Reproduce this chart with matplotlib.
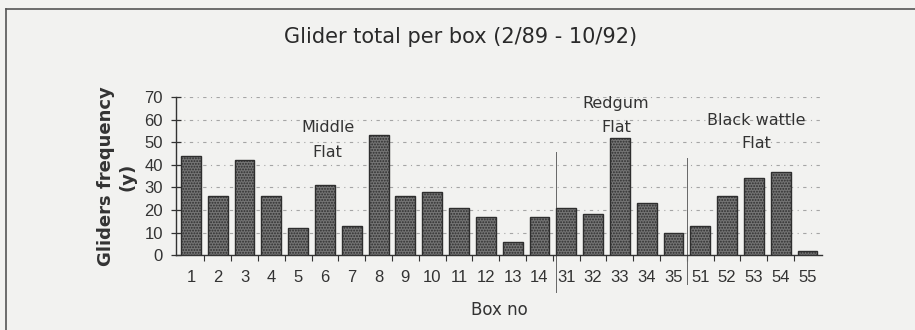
import matplotlib
matplotlib.use("Agg")
import matplotlib.pyplot as plt
from matplotlib.lines import Line2D

# Glider counts per nest box, Feb 1989 - Oct 1992
BOXES = ["1", "2", "3", "4", "5", "6", "7", "8", "9", "10", "11", "12", "13", "14",
         "31", "32", "33", "34", "35", "51", "52", "53", "54", "55"]
GLIDERS = [44, 26, 42, 26, 12, 31, 13, 53, 26, 28, 21, 17, 6, 17,
           21, 18, 52, 23, 10, 13, 26, 34, 37, 2]
Y_TICKS = [0, 10, 20, 30, 40, 50, 60, 70]
SITES = ["Middle\nFlat", "Redgum\nFlat", "Black wattle\nFlat"]

BG = "#f2f2f0"
INK = "#333333"
WIDE = ["DejaVu Sans"]

plt.rcParams["font.family"] = ["Liberation Sans", "DejaVu Sans"]
plt.rcParams["hatch.linewidth"] = 0.9

fig = plt.figure(figsize=(9.15, 3.3), dpi=100, facecolor=BG)
ax = fig.add_axes([0.1923, 0.227, 0.706, 0.479], facecolor=BG)

x = list(range(len(BOXES)))
ax.bar(x, GLIDERS, width=0.74, color="#747474", edgecolor="#2e2e2e",
       hatch="......", linewidth=1.0, zorder=3)

ax.set_xlim(-0.56, 23.54)
ax.set_ylim(0, 70)

# dotted gridlines
for v in Y_TICKS[1:]:
    ax.axhline(v, color="#a5a5a5", lw=0.8, ls=(0, (3, 4, 1, 4)), zorder=1)

for side in ("top", "right"):
    ax.spines[side].set_visible(False)
for side in ("left", "bottom"):
    ax.spines[side].set_color(INK)
    ax.spines[side].set_linewidth(1.0)

ax.set_yticks(Y_TICKS)
ax.tick_params(axis="y", direction="inout", length=7, width=0.9, color=INK,
               labelsize=12, labelcolor=INK, pad=6)
ax.set_xticks(x)
ax.set_xticklabels(BOXES)
ax.set_xticks([i + 0.5 for i in x[:-1]], minor=True)
ax.tick_params(axis="x", which="major", length=0, labelsize=12,
               labelcolor=INK, pad=11)
ax.tick_params(axis="x", which="minor", direction="out", length=4,
               width=0.8, color=INK)

# site separators
ax.plot([13.6, 13.6], [45.5, -16.5], color="#666666", lw=0.7,
        clip_on=False, zorder=2)
ax.plot([18.5, 18.5], [43, -13], color="#666666", lw=0.7,
        clip_on=False, zorder=2)

# site names
site_pos = [(5.1, 56.3, 45.6), (15.86, 67.3, 56.7), (21.1, 59.4, 49.2)]
for name, (sx, y1, y2) in zip(SITES, site_pos):
    first, second = name.split("\n")
    ax.text(sx, y1, first, ha="center", va="center", fontsize=11.5,
            family=WIDE, color=INK, zorder=4)
    ax.text(sx, y2, second, ha="center", va="center", fontsize=11.5,
            family=WIDE, color=INK, zorder=4)

fig.text(0.503, 0.888, "Glider total per box (2/89 - 10/92)", ha="center",
         va="center", fontsize=15, family=WIDE, color="#2a2a2a")
fig.text(0.546, 0.06, "Box no", ha="center", va="center", fontsize=12,
         family=WIDE, color=INK)
fig.text(0.1273, 0.465, "Gliders frequency\n(y)", rotation=90, ha="center",
         va="center", fontsize=13, fontweight="bold", family=WIDE,
         color=INK, linespacing=1.25)

# page frame
fig.add_artist(Line2D([6 / 915, 1.0], [1 - 9 / 330, 1 - 9 / 330],
                      color="#555555", lw=1.2))
fig.add_artist(Line2D([6 / 915, 6 / 915], [1 - 9 / 330, 0.0],
                      color="#555555", lw=1.2))

fig.savefig("out.png", dpi=100, facecolor=BG)
